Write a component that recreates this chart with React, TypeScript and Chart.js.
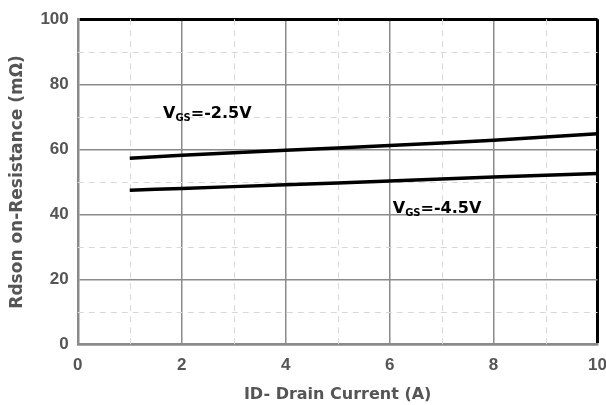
import React, { useEffect, useRef } from "react";
import { Chart, registerables } from "chart.js";

Chart.register(...registerables);

const currentA = [1, 2, 4, 6, 8, 10];
const rdsVgs25 = [57.3, 58.2, 59.7, 61.2, 62.8, 64.8];
const rdsVgs45 = [47.4, 48.0, 49.1, 50.3, 51.5, 52.6];
const xTicks = [0, 2, 4, 6, 8, 10];
const yTicks = [0, 20, 40, 60, 80, 100];
const seriesLabels = ["-2.5V", "-4.5V"];
const labelAnchors = [
  { x: 1.64, y: 69.5 },
  { x: 6.06, y: 40.5 },
];

const FONT = "'Liberation Sans', Arial, sans-serif";
const WIDE = "'DejaVu Sans', Verdana, sans-serif";
const TICK_COLOR = "#555555";
const GRID_COLOR = "#8a8a8a";
const MINOR_COLOR = "#d8d8d8";

export default function App() {
  const ref = useRef<HTMLCanvasElement | null>(null);
  useEffect(() => {
    if (!ref.current) return;
    const minorGrid = {
      id: "minorGrid",
      beforeDatasetsDraw(chart: any) {
        const { ctx, scales } = chart;
        const xs = scales.x;
        const ys = scales.y;
        const ca = chart.chartArea;
        ctx.save();
        ctx.strokeStyle = MINOR_COLOR;
        ctx.lineWidth = 1;
        ctx.setLineDash([6, 5]);
        for (let v = 1; v < 10; v += 2) {
          const px = Math.round(xs.getPixelForValue(v)) + 0.5;
          ctx.beginPath();
          ctx.moveTo(px, ca.top);
          ctx.lineTo(px, ca.bottom);
          ctx.stroke();
        }
        for (let v = 10; v < 100; v += 20) {
          const py = Math.round(ys.getPixelForValue(v)) + 0.5;
          ctx.beginPath();
          ctx.moveTo(ca.left, py);
          ctx.lineTo(ca.right, py);
          ctx.stroke();
        }
        ctx.restore();
      },
    };
    const seriesText = {
      id: "seriesText",
      afterDatasetsDraw(chart: any) {
        const { ctx, scales } = chart;
        ctx.save();
        ctx.fillStyle = "#000";
        ctx.textBaseline = "alphabetic";
        ctx.textAlign = "left";
        labelAnchors.forEach((a, i) => {
          let px = scales.x.getPixelForValue(a.x);
          const py = scales.y.getPixelForValue(a.y);
          ctx.font = `bold 16px ${WIDE}`;
          ctx.fillText("V", px, py);
          px += ctx.measureText("V").width;
          ctx.font = `bold 10px ${WIDE}`;
          ctx.fillText("GS", px, py + 3);
          px += ctx.measureText("GS").width;
          ctx.font = `bold 16px ${WIDE}`;
          ctx.fillText("=" + seriesLabels[i], px, py);
        });
        ctx.restore();
      },
    };
    const gridColor = (c: any, max: number) =>
      c.tick && c.tick.value === max ? "#000" : GRID_COLOR;
    const gridWidth = (c: any, max: number) =>
      c.tick && c.tick.value === max ? 3 : 1.5;

    const chart = new Chart(ref.current, {
      type: "line",
      data: {
        datasets: [
          {
            label: "VGS=" + seriesLabels[0],
            data: currentA.map((x, i) => ({ x, y: rdsVgs25[i] })),
            borderColor: "#000",
            borderWidth: 3.5,
            pointRadius: 0,
            tension: 0.3,
          },
          {
            label: "VGS=" + seriesLabels[1],
            data: currentA.map((x, i) => ({ x, y: rdsVgs45[i] })),
            borderColor: "#000",
            borderWidth: 3.5,
            pointRadius: 0,
            tension: 0.3,
          },
        ],
      },
      options: {
        animation: false,
        responsive: true,
        maintainAspectRatio: false,
        layout: { padding: { top: 0, right: 0, left: 7, bottom: 2 } },
        plugins: { legend: { display: false }, tooltip: { enabled: false } },
        scales: {
          x: {
            type: "linear",
            min: 0,
            max: 10,
            afterBuildTicks: (s: any) => {
              s.ticks = xTicks.map((v) => ({ value: v }));
            },
            ticks: {
              color: TICK_COLOR,
              font: { family: FONT, size: 17, weight: "bold" },
              padding: 11,
              maxRotation: 0,
            },
            grid: {
              color: (c: any) => gridColor(c, 10),
              lineWidth: (c: any) => gridWidth(c, 10),
              drawTicks: false,
            },
            border: { color: GRID_COLOR, width: 2.5 },
            title: {
              display: true,
              text: "ID- Drain Current (A)",
              color: TICK_COLOR,
              font: { family: WIDE, size: 16, weight: "bold", lineHeight: 1.0 },
              padding: { top: 0, bottom: 0 },
            },
          },
          y: {
            type: "linear",
            min: 0,
            max: 100,
            afterBuildTicks: (s: any) => {
              s.ticks = yTicks.map((v) => ({ value: v }));
            },
            ticks: {
              color: TICK_COLOR,
              font: { family: FONT, size: 17, weight: "bold" },
              padding: 9,
            },
            grid: {
              color: (c: any) => gridColor(c, 100),
              lineWidth: (c: any) => gridWidth(c, 100),
              drawTicks: false,
            },
            border: { color: GRID_COLOR, width: 2.5 },
            title: {
              display: true,
              text: "Rdson on-Resistance (mΩ)",
              color: TICK_COLOR,
              font: { family: WIDE, size: 17, weight: "bold" },
              padding: { top: 0, bottom: 4 },
            },
          },
        },
      },
      plugins: [minorGrid, seriesText],
    });
    return () => chart.destroy();
  }, []);
  return (
    <div style={{ position: "fixed", left: 0, top: 0, width: 618, height: 405, background: "#fff" }}>
      <canvas ref={ref} />
    </div>
  );
}
